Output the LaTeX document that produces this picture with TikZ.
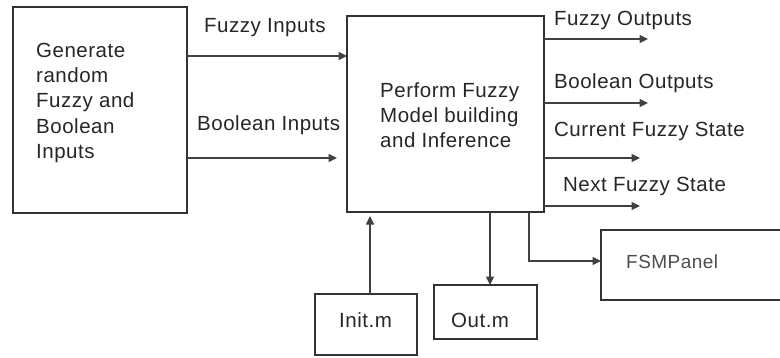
\documentclass[tikz,border=0pt]{standalone}
\usepackage{fontspec}
\setmainfont{Liberation Sans}[LetterSpace=2.5]
\usetikzlibrary{arrows.meta}
\begin{document}
\begin{tikzpicture}[x=1pt,y=-1pt,
  box/.style={draw=black!80,line width=1.3pt,inner sep=0pt,outer sep=0pt,anchor=north west},
  txt/.style={anchor=base west,inner sep=0pt,text=black!85,font=\fontsize{20.5}{25}\selectfont},
  conn/.style={draw=black!75,line width=1.1pt,-{Triangle[length=8.5pt,width=8pt]}}]
\useasboundingbox (0,0) rectangle (780,357);
% boxes
\node[box,minimum width=174pt,minimum height=206pt] (gen) at (13,7) {};
\node[box,minimum width=197pt,minimum height=196pt] (main) at (347,16) {};
\node[box,minimum width=102pt,minimum height=61pt] (init) at (315,294) {};
\node[box,minimum width=103pt,minimum height=54pt] (out) at (434,285) {};
\node[box,minimum width=250pt,minimum height=70pt] (fsm) at (601,230) {};
% texts
\node[txt] (g1) at (36,57) {Generate};
\node[txt] (g2) at (36,82) {random};
\node[txt] (g3) at (36,107) {Fuzzy and};
\node[txt] (g4) at (36,133) {Boolean};
\node[txt] (g5) at (36,158) {Inputs};
\node[txt] (m1) at (380,97) {Perform Fuzzy};
\node[txt] (m2) at (380,122) {Model building};
\node[txt] (m3) at (380,147) {and Inference};
\node[txt] (lfi) at (204,32) {Fuzzy Inputs};
\node[txt] (lbi) at (197,130) {Boolean Inputs};
\node[txt] (lfo) at (554,25) {Fuzzy Outputs};
\node[txt] (lbo) at (554,88) {Boolean Outputs};
\node[txt] (lcs) at (554,136) {Current Fuzzy State};
\node[txt] (lns) at (563,191) {Next Fuzzy State};
\node[txt] (linit) at (339,327) {Init.m};
\node[txt] (lout) at (451,327) {Out.m};
\node[txt,text=black!70,font=\fontsize{19}{23}\selectfont] (lfsm) at (626,268) {FSMPanel};
% free ends
\coordinate (efo) at (648,39);
\coordinate (ebo) at (648,103);
\coordinate (ecs) at (640,158);
\coordinate (ens) at (640,206);
\coordinate (bend) at (529,261);
% connectors
\draw[conn] (gen.east |- 0,56) -- (main.west |- 0,56);
\draw[conn,shorten >=10pt] (gen.east |- 0,158) -- (main.west |- 0,158);
\draw[conn] (main.east |- efo) -- (efo);
\draw[conn] (main.east |- ebo) -- (ebo);
\draw[conn] (main.east |- ecs) -- (ecs);
\draw[conn] (main.east |- ens) -- (ens);
\draw[conn,shorten >=4pt] (init.north -| 370,0) -- (main.south -| 370,0);
\draw[conn] (main.south -| 490,0) -- (out.north -| 490,0);
\draw[conn] (main.south -| bend) -- (bend) -- (fsm.west |- bend);
\end{tikzpicture}
\end{document}
